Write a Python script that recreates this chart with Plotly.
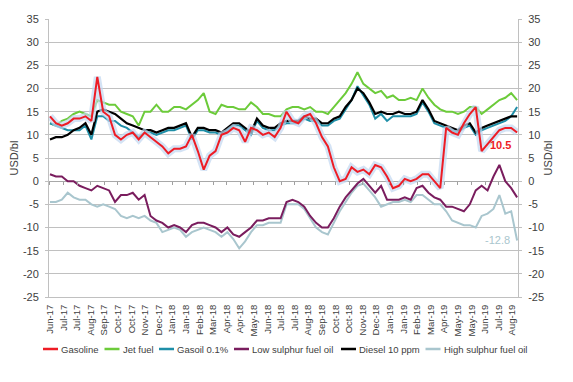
import pandas as pd
import plotly.graph_objects as go

# ---------------- data (USD/bl, ~10-day samples) ----------------
dates = pd.date_range("2017-06-10", periods=80, freq="10D")

gasoline = [14, 12.5, 12, 12.5, 13.5, 13.5, 14, 13, 22.5, 15,
            14, 10, 9, 10, 10.5, 9, 10.5, 9.5, 8.5, 7.5,
            6, 7, 7, 7.5, 10, 6.5, 2.5, 5.5, 6.5, 10,
            10.5, 11.5, 11, 8.5, 11.5, 11, 10, 10.5, 9.5, 11.5,
            15, 13, 12.5, 14, 14.5, 12.5, 9.5, 7.5, 3, 0,
            0.5, 3, 2, 2.5, 1.5, 3.5, 3, 1, -1.5, -1,
            0.5, 0, 0.5, 1.5, 1.5, 0, -1.5, 11.5, 10.5, 10,
            12.5, 14.5, 16, 6.5, 8, 9.5, 11, 11.5, 11.5, 10.5]

jet_fuel = [12.5, 12, 13, 13.5, 14.5, 15, 14.5, 14, 17.5, 17,
            16.5, 16.5, 15, 14.5, 14, 12, 15, 15, 16.5, 15,
            15, 16, 16, 15.5, 16.5, 17.5, 19, 15, 14.5, 16.5,
            16, 16, 15.5, 15.5, 17, 16, 14.5, 14.5, 14, 14,
            15.5, 16, 16, 15.5, 16, 15, 15, 14.5, 16, 17.5,
            19, 21, 23.5, 21, 20, 19, 19.5, 18, 18.5, 17.5,
            17.5, 18, 17.5, 20, 18, 16.5, 15.5, 15, 15, 14.5,
            15, 16, 16, 14.5, 15.5, 16.5, 17.5, 18, 19, 17.5]

gasoil = [12.5, 12, 11.5, 11, 11, 11, 12, 9, 14, 14,
          13, 13, 12, 11.5, 10.5, 9.5, 10.5, 10.5, 10, 10.5,
          11, 11, 11.5, 12, 9, 11, 11, 10.5, 10.5, 10,
          11, 12, 12, 11, 10, 13, 11.5, 11, 11, 12,
          12.5, 12.5, 12.5, 13.5, 13, 13, 12, 12, 13, 13.5,
          15.5, 17.5, 20.5, 18.5, 16.5, 13.5, 14.5, 13, 14, 14,
          14, 14, 14.5, 17, 15, 12.5, 12, 11.5, 11, 10.5,
          11.5, 12, 10, 11, 11.5, 12, 12.5, 13, 14, 16]

low_sulphur_fo = [1.5, 1, 1, 0, 0, -1, -1.5, -2, -1, -1.5,
                  -2, -4.5, -3, -3, -2.5, -4, -3, -7.5, -8.5, -9,
                  -10, -9.5, -10, -11, -9.5, -9, -9, -9.5, -10, -11,
                  -10, -11.5, -12, -11, -10, -8.5, -8.5, -8, -8, -8,
                  -4.5, -4, -4.5, -5.5, -7.5, -9, -10, -10, -8, -5.5,
                  -3.5, -2, -0.5, 0.5, -1, -2.5, -1, -4, -4, -4,
                  -3.5, -4, -1.5, -1, -2.5, -3.5, -4, -5.5, -5.5, -6,
                  -6.5, -5, -2, -1, -2, 1, 3.5, 0, -1.5, -3.5]

diesel = [9, 9.5, 9.5, 10, 11, 11.5, 12.5, 10, 15, 15.5,
          15, 14.5, 13.5, 12.5, 12, 11.5, 11, 11, 10.5, 11,
          11.5, 11.5, 12, 12.5, 9.5, 11.5, 11.5, 11, 11, 10.5,
          11.5, 12.5, 12.5, 11.5, 10.5, 13.5, 12, 11.5, 11.5, 12.5,
          13, 13, 13, 14, 13.5, 13.5, 12.5, 12.5, 13.5, 14,
          16, 17.5, 20, 19, 17, 14.5, 15, 14.5, 14.5, 15,
          14.5, 14.5, 15, 17.5, 15.5, 13, 12.5, 12, 11.5, 11,
          12, 12.5, 10.5, 11.5, 12, 12.5, 13, 13.5, 14, 14]

high_sulphur_fo = [-4.5, -4.5, -4, -2.5, -3.5, -4, -4, -5, -5.5, -5,
                   -5.5, -6, -7.5, -8, -7.5, -8, -7.5, -8.5, -9, -11,
                   -10.5, -10, -10.5, -12, -11, -10.5, -10, -10.5, -11, -12,
                   -11, -12.5, -14.5, -13, -11, -9.5, -9.5, -9, -9, -9,
                   -5, -5, -5, -6, -8, -10, -11, -11.5, -9, -6.5,
                   -4.5, -2.5, -1, -0.5, -2, -3.5, -5.5, -5, -4.5, -4.5,
                   -4, -4.5, -3, -3, -4, -5, -5, -6.5, -8.5, -9,
                   -9.5, -9.5, -10, -7.5, -7, -6, -3, -7, -6.5, -12.8]

tick_labels = ["Jun-17", "Jul-17", "Jul-17", "Aug-17", "Sep-17", "Oct-17", "Oct-17",
               "Nov-17", "Dec-17", "Jan-18", "Jan-18", "Feb-18", "Mar-18", "Apr-18",
               "Apr-18", "May-18", "Jun-18", "Jul-18", "Jul-18", "Aug-18", "Sep-18",
               "Oct-18", "Oct-18", "Nov-18", "Dec-18", "Jan-19", "Jan-19", "Feb-19",
               "Mar-19", "Apr-19", "May-19", "May-19", "Jun-19", "Jul-19", "Aug-19"]
tick_dates = pd.date_range("2017-06-10", periods=len(tick_labels), freq="23D")

y_tick_vals = [-25, -20, -15, -10, -5, 0, 5, 10, 15, 20, 25, 30, 35]
y_tick_labels = ["-25", "-20", "-15", "-10", "-5", "0", "5", "10", "15", "20", "25", "30", "35"]

series_names = ["Gasoline", "Jet fuel", "Gasoil 0.1%", "Low sulphur fuel oil",
                "Diesel 10 ppm", "High sulphur fuel oil"]
colors = {"Gasoline": "#EE1C25", "Jet fuel": "#6CCB3A", "Gasoil 0.1%": "#1F8FA8",
          "Low sulphur fuel oil": "#7A1D5E", "Diesel 10 ppm": "#000000",
          "High sulphur fuel oil": "#A9C6CE"}
values = {"Gasoline": gasoline, "Jet fuel": jet_fuel, "Gasoil 0.1%": gasoil,
          "Low sulphur fuel oil": low_sulphur_fo, "Diesel 10 ppm": diesel,
          "High sulphur fuel oil": high_sulphur_fo}

FONT = "Liberation Sans, Arial, sans-serif"
TXT = "#404040"
GRID = "#C0C0C0"

fig = go.Figure()

draw_order = ["High sulphur fuel oil", "Low sulphur fuel oil", "Jet fuel",
              "Gasoil 0.1%", "Diesel 10 ppm"]
for name in draw_order:
    fig.add_trace(go.Scatter(x=dates, y=values[name], mode="lines", name=name,
                             line=dict(color=colors[name],
                                       width=2.2 if name == "Diesel 10 ppm" else 2),
                             showlegend=False))
# glow under gasoline
fig.add_trace(go.Scatter(x=dates, y=gasoline, mode="lines", line=dict(color="#C2D8F2", width=7),
                         opacity=0.7, showlegend=False, hoverinfo="skip"))
fig.add_trace(go.Scatter(x=dates, y=gasoline, mode="lines", name="Gasoline",
                         line=dict(color=colors["Gasoline"], width=2), showlegend=False))

# helper trace for the zero-line tick axis and right y axis
fig.add_trace(go.Scatter(x=[dates[0]], y=[0], xaxis="x2", yaxis="y2", mode="lines",
                         line=dict(width=0), showlegend=False, hoverinfo="skip"))

xr = ["2017-06-08 08:00", "2019-08-10 12:00"]
yaxis_common = dict(range=[-25, 35], tickvals=y_tick_vals, ticktext=y_tick_labels,
                    showline=True, linecolor=GRID, ticks="outside", ticklen=3,
                    tickcolor=GRID, ticklabelstandoff=4, automargin=False,
                    tickfont=dict(size=11, color=TXT))
fig.update_layout(
    width=573, height=382, autosize=False,
    margin=dict(l=49, r=55, t=19, b=85),
    paper_bgcolor="white", plot_bgcolor="white",
    font=dict(family=FONT, size=11, color=TXT),
    xaxis=dict(range=xr, tickvals=tick_dates, ticktext=tick_labels, tickangle=-90,
               showgrid=False, zeroline=False, showline=True, linecolor=GRID,
               ticks="", ticklabelstandoff=3, automargin=False,
               tickfont=dict(size=9.5, color=TXT)),
    xaxis2=dict(range=xr, overlaying="x", anchor="free", position=25 / 60,
                tickvals=tick_dates, showticklabels=False, ticks="outside",
                ticklen=3, tickcolor="#A0A0A0", showgrid=False, zeroline=False,
                showline=False, automargin=False),
    yaxis=dict(**yaxis_common, showgrid=True, gridcolor=GRID, gridwidth=1,
               zeroline=True, zerolinecolor="#A8A8A8", zerolinewidth=1,
               title=dict(text="USD/bl", standoff=2, font=dict(size=11, color=TXT))),
    yaxis2=dict(**yaxis_common, overlaying="y", side="right", showgrid=False,
                zeroline=False,
                title=dict(text="USD/bl", standoff=1, font=dict(size=11, color=TXT))),
    showlegend=False,
)

# end-value labels
fig.add_annotation(x=dates[-1], y=7.8, text="<b>10.5</b>", showarrow=False,
                   xanchor="right", xshift=-4, font=dict(size=11, color=colors["Gasoline"]))
fig.add_annotation(x=dates[-1], y=high_sulphur_fo[-1], text="-12.8", showarrow=False,
                   xanchor="right", xshift=-5,
                   font=dict(size=11, color=colors["High sulphur fuel oil"]))

# legend row (keys + labels), placed below the axis labels
legend_keys = [(43, 58), (104.5, 119.5), (159, 174), (234, 249), (341, 356), (425.5, 440.5)]
plot_l, plot_w, plot_b, plot_h = 49, 469, 297, 278
ly = (plot_b - 349) / plot_h
for name, (k0, k1) in zip(series_names, legend_keys):
    fig.add_shape(type="line", xref="paper", yref="paper",
                  x0=(k0 - plot_l) / plot_w, x1=(k1 - plot_l) / plot_w, y0=ly, y1=ly,
                  line=dict(color=colors[name], width=2.5))
    fig.add_annotation(xref="paper", yref="paper", x=(k1 + 1 - plot_l) / plot_w, y=ly,
                       text=name, showarrow=False, xanchor="left", yanchor="middle",
                       font=dict(size=9.5, color=TXT, family=FONT))

# pin the figure to the top-left corner of the page (no default body margin)
post = ("document.body.style.margin='0';document.body.style.overflow='hidden';"
        "var d=document.getElementById('{plot_id}');d.style.position='absolute';"
        "d.style.left='0px';d.style.top='0px';")
fig.write_html("out.html", config={"responsive": False, "displayModeBar": False},
               post_script=post)
